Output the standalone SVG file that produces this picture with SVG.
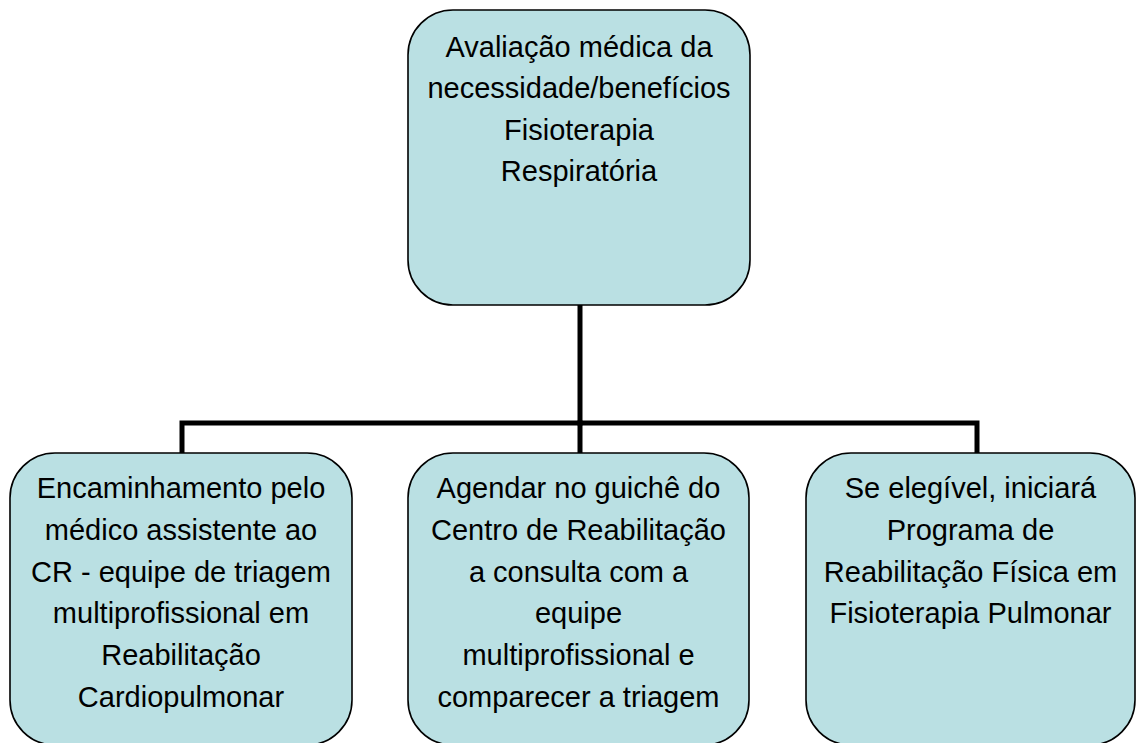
<svg xmlns="http://www.w3.org/2000/svg" width="1138" height="743" viewBox="0 0 1138 743">
<style>
.box{fill:#bae0e3;stroke:#000;stroke-width:1.6}
.t{font-family:"Liberation Sans",Arial,sans-serif;font-size:29px;fill:#000;text-anchor:middle}
.c{stroke:#000;stroke-width:5;fill:none;stroke-linecap:square}
</style>
<rect width="1138" height="743" fill="#fff"/>
<g id="connectors">
<path class="c" d="M580,306 V423"/>
<path class="c" d="M182,452 V423 H977 V452"/>
<path class="c" d="M580,423 V452"/>
</g>
<g id="n-top">
<rect class="box" x="408" y="10" width="342" height="295" rx="45" ry="45"/>
<text class="t" x="579" y="57">Avaliação médica da</text>
<text class="t" x="579" y="98">necessidade/benefícios</text>
<text class="t" x="579" y="140">Fisioterapia</text>
<text class="t" x="579" y="181">Respiratória</text>
</g>
<g id="n-left">
<rect class="box" x="10" y="453" width="342" height="292" rx="45" ry="45"/>
<text class="t" x="181" y="498">Encaminhamento pelo</text>
<text class="t" x="181" y="540">médico assistente ao</text>
<text class="t" x="181" y="582">CR - equipe de triagem</text>
<text class="t" x="181" y="623">multiprofissional em</text>
<text class="t" x="181" y="665">Reabilitação</text>
<text class="t" x="181" y="707">Cardiopulmonar</text>
</g>
<g id="n-mid">
<rect class="box" x="408" y="453" width="341" height="292" rx="45" ry="45"/>
<text class="t" x="578.5" y="498">Agendar no guichê do</text>
<text class="t" x="578.5" y="540">Centro de Reabilitação</text>
<text class="t" x="578.5" y="582">a consulta com a</text>
<text class="t" x="578.5" y="623">equipe</text>
<text class="t" x="578.5" y="665">multiprofissional e</text>
<text class="t" x="578.5" y="707">comparecer a triagem</text>
</g>
<g id="n-right">
<rect class="box" x="806" y="453" width="329" height="292" rx="45" ry="45"/>
<text class="t" x="970.5" y="498">Se elegível, iniciará</text>
<text class="t" x="970.5" y="540">Programa de</text>
<text class="t" x="970.5" y="582">Reabilitação Física em</text>
<text class="t" x="970.5" y="623">Fisioterapia Pulmonar</text>
</g>
</svg>
